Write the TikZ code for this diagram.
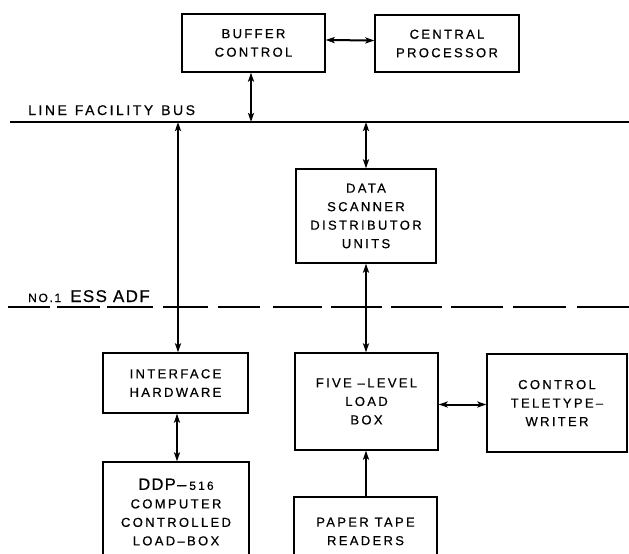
\documentclass[tikz,border=0pt]{standalone}
\usepackage{fontspec}
\setmainfont{Liberation Sans}
\usetikzlibrary{arrows.meta}
\newcommand\lettering{\fontsize{13}{18.5}\selectfont\addfontfeature{LetterSpace=18,FakeBold=0.6}}
\begin{document}
\begin{tikzpicture}[x=1pt,y=-1pt,
  myhead/.tip={Stealth[length=9pt,width=6pt,inset=2pt]},
  box/.style={draw, line width=1.3pt, inner sep=0pt, align=center, font=\lettering},
  lbl/.style={inner sep=0pt, anchor=base west}]
\useasboundingbox (0,0) rectangle (629,554);
\clip (0,0) rectangle (629,554);
% boxes
\node[box, minimum width=143pt, minimum height=58pt] (buf) at (253.5,43) {BUFFER\\CONTROL};
\node[box, minimum width=144pt, minimum height=57pt] (cp) at (447,43.5) {CENTRAL\\PROCESSOR};
\node[box, minimum width=140pt, minimum height=94pt] (dsdu) at (366,216) {DATA\\SCANNER\\DISTRIBUTOR\\UNITS};
\node[box, minimum width=145pt, minimum height=60pt] (ih) at (175.5,383) {INTERFACE\\HARDWARE};
\node[box, minimum width=146pt, minimum height=100pt] (ddp) at (176,512)
  {{\fontsize{16.5}{18.5}\selectfont\addfontfeature{LetterSpace=8}DDP–\hspace{3pt}}{\fontsize{12}{18.5}\selectfont 516}\\COMPUTER\\CONTROLLED\\LOAD–BOX};
\node[box, minimum width=143pt, minimum height=97pt] (fl) at (366.5,401.5) {FIVE –LEVEL\\LOAD\\BOX};
\node[box, minimum width=140pt, minimum height=98pt] (tt) at (557,403) {CONTROL\\TELETYPE–\\WRITER};
\node[box, minimum width=143pt, minimum height=69pt] (pt) at (365.5,531.5) {PAPER TAPE\\READERS};
% bus
\coordinate (busL) at (10,122);
\coordinate (busR) at (629,122);
\draw[line width=2.2pt] (busL) -- (busR);
\node[lbl, font={\fontsize{14}{16}\selectfont\addfontfeature{LetterSpace=18,FakeBold=0.6}}] (buslbl) at (28,115) {LINE\hspace{8pt}FACILITY\hspace{8pt}BUS};
% boundary
\coordinate (adfL) at (8,307);
\coordinate (adfR) at (629,307);
\draw[line width=1.6pt, dash pattern=on 42pt off 7pt on 43pt off 7pt on 46pt off 10pt on 45pt off 10pt on 42pt off 13pt on 49pt off 9pt on 51pt off 9pt on 51pt off 9pt on 52pt off 10pt on 53pt off 11pt on 52pt off 20pt] (adfL) -- (adfR);
\node[lbl] (adflbl) at (28,302) {{\fontsize{12}{14}\selectfont\addfontfeature{LetterSpace=14,FakeBold=0.6}NO.1}\hspace{9pt}{\fontsize{17}{18}\selectfont\addfontfeature{LetterSpace=8,FakeBold=0.6}ESS\hspace{6pt}ADF}};
% connectors
\coordinate (b1) at (251,122);
\coordinate (b2) at (178,122);
\coordinate (b3) at (366,122);
\draw[line width=2pt, myhead-myhead] ([yshift=3pt]buf.east) -- ([yshift=3pt]cp.west);
\draw[line width=2pt, myhead-myhead] (buf.south -| b1) -- (b1);
\draw[line width=2pt, myhead-myhead] (b2) -- (b2 |- ih.north);
\draw[line width=2pt, myhead-myhead] (b3) -- (dsdu.north);
\draw[line width=2pt, myhead-myhead] (dsdu.south) -- (dsdu.south |- fl.north);
\draw[line width=2pt, myhead-myhead] ([xshift=1.5pt]ih.south) -- ([xshift=1.5pt]ih.south |- ddp.north);
\draw[line width=2pt, myhead-myhead] ([yshift=-3pt]fl.east) -- ([yshift=-3pt]fl.east -| tt.west);
\draw[line width=2pt, -myhead] (pt.north -| dsdu.south) -- (dsdu.south |- fl.south);
\end{tikzpicture}
\end{document}
